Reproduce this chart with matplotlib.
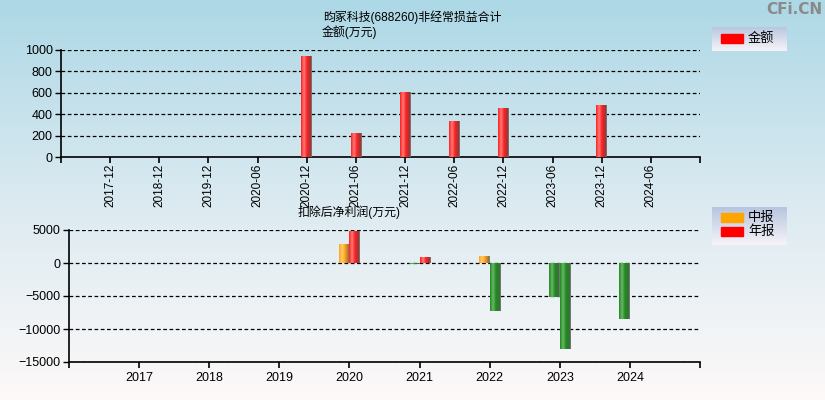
import numpy as np
import matplotlib.pyplot as plt
from matplotlib.colors import LinearSegmentedColormap
from matplotlib.patches import Rectangle

plt.rcParams['font.family'] = ['Liberation Sans', 'Noto Sans CJK SC']

W, H = 825, 400
nan = np.nan

# top chart: non-recurring gains (10k yuan)
top_labels = ['2017-12', '2018-12', '2019-12', '2020-06', '2020-12', '2021-06',
              '2021-12', '2022-06', '2022-12', '2023-06', '2023-12', '2024-06']
top_values = [nan, nan, nan, nan, 935, 215, 607, 336, 449, nan, 477, nan]

# bottom chart: deducted net profit (10k yuan)
years = [2017, 2018, 2019, 2020, 2021, 2022, 2023, 2024]
interim = [nan, nan, nan, 2770, -150, 1060, -5100, -8430]
annual = [nan, nan, nan, 4750, 880, -7270, -12980, nan]


def box(l, t, r, b):
    return [l / W, 1 - b / H, (r - l) / W, (b - t) / H]


def ftext(x, y, s, **kw):
    fig.text(x / W, 1 - y / H, s, **kw)


# horizontal shading of each bar: base, highlight, base, dark edge
def shade_cmap(base, light, dark):
    return LinearSegmentedColormap.from_list(
        'g', [(0, base), (0.28, light), (0.55, base), (0.92, dark), (1, '#8a8a8a')])


red_c = shade_cmap('#ff2020', '#ff7a7a', '#8c3a3a')
orange_c = shade_cmap('#ffa41a', '#ffcc70', '#8a7040')
green_c = shade_cmap('#1e8c1e', '#6cb46c', '#3f6a3f')
grad = np.linspace(0, 1, 40).reshape(1, -1)


def shade_bars(ax, bars, pos_cmap, neg_cmap):
    for p in bars.patches:
        h = p.get_height()
        if np.isnan(h):
            continue
        x0, w = p.get_x(), p.get_width()
        cm = pos_cmap if h >= 0 else neg_cmap
        ax.imshow(grad, cmap=cm, aspect='auto', zorder=3,
                  extent=[x0, x0 + w, min(0, h), max(0, h)], interpolation='bilinear')


fig = plt.figure(figsize=(W / 100, H / 100), dpi=100)

# background gradient
bg = fig.add_axes([0, 0, 1, 1], zorder=-10)
bgcm = LinearSegmentedColormap.from_list('bg', ['#add8e6', '#dbeaf1', '#fdf9f9'])
bg.imshow(np.linspace(0, 1, 200).reshape(-1, 1), cmap=bgcm, aspect='auto', extent=[0, 1, 0, 1])
bg.axis('off')


def style_axes(ax):
    ax.patch.set_alpha(0)
    for s in ['top', 'right']:
        ax.spines[s].set_visible(False)
    for s in ['left', 'bottom']:
        ax.spines[s].set_linewidth(1.2)
    ax.yaxis.grid(True, linestyle=(0, (3, 2)), color='black', lw=0.9)
    ax.set_axisbelow(True)
    ax.tick_params(axis='y', length=4, width=1, labelsize=9, pad=2)
    ax.tick_params(axis='x', which='both', length=4, width=1.2, labelsize=9, pad=1)


# ---- top chart ----
ax1 = fig.add_axes(box(61, 50, 700, 157))
style_axes(ax1)
x = np.arange(len(top_labels))
b1 = ax1.bar(x, top_values, width=0.22, color='#ff2020', zorder=2)
shade_bars(ax1, b1, red_c, red_c)
ax1.set_xlim(-1, len(top_labels))
ax1.set_ylim(0, 1000)
ax1.set_yticks([0, 200, 400, 600, 800, 1000])
ax1.set_xticks(x)
ax1.set_xticklabels(top_labels, rotation=90, fontsize=8.5)
ax1.set_xticks([-1, len(top_labels)], minor=True)

ftext(323, 17, '昀冢科技(688260)非经常损益合计', fontsize=8.6, va='center')
ftext(322, 32, '金额(万元)', fontsize=8.6, va='center')

# ---- bottom chart ----
ax2 = fig.add_axes(box(69, 230, 700, 362))
style_axes(ax2)
yr = np.array(years)
b_int = ax2.bar(yr - 0.075, interim, width=0.15, color='#ffa41a', zorder=2)
b_ann = ax2.bar(yr + 0.075, annual, width=0.15, color='#ff2020', zorder=2)
shade_bars(ax2, b_int, orange_c, green_c)
shade_bars(ax2, b_ann, red_c, green_c)
ax2.set_xlim(years[0] - 1, years[-1] + 1)
ax2.set_ylim(-15000, 5000)
ax2.set_yticks([-15000, -10000, -5000, 0, 5000])
ax2.set_xticks(years)
ax2.set_xticks([years[0] - 1, years[-1] + 1], minor=True)
ax2.tick_params(axis='x', pad=3)

ftext(298, 212, '扣除后净利润(万元)', fontsize=8.6, va='center')


# ---- legends (drawn by hand to get the shaded box) ----
def legend_box(l, t, r, b, items):
    lg = fig.add_axes(box(l, t, r, b), zorder=5)
    lgcm = LinearSegmentedColormap.from_list('lg', ['#b7c5df', '#f6f4f8'])
    lg.imshow(np.linspace(0, 1, 50).reshape(-1, 1), cmap=lgcm, aspect='auto',
              extent=[0, 1, 0, 1])
    lg.set_xlim(0, 1)
    lg.set_ylim(0, 1)
    lg.axis('off')
    for name, color, yc in items:
        fig.patches.append(Rectangle(((l + 9) / W, 1 - (yc + 4.5) / H), 22 / W, 9 / H,
                                     transform=fig.transFigure, color=color, zorder=6))
        ftext(l + 36, yc, name, fontsize=9.5, va='center', zorder=6)


legend_box(712, 27, 787, 51, [('金额', '#ff0000', 38.5)])
legend_box(712, 207, 787, 245, [('中报', '#ffa500', 217.5), ('年报', '#ff0000', 231.5)])

ftext(822, 10, 'CFi.CN', fontsize=11, fontweight='bold', color='#8a8a8a',
      ha='right', va='center', family=['DejaVu Sans'])

fig.savefig('out.png', dpi=100)
